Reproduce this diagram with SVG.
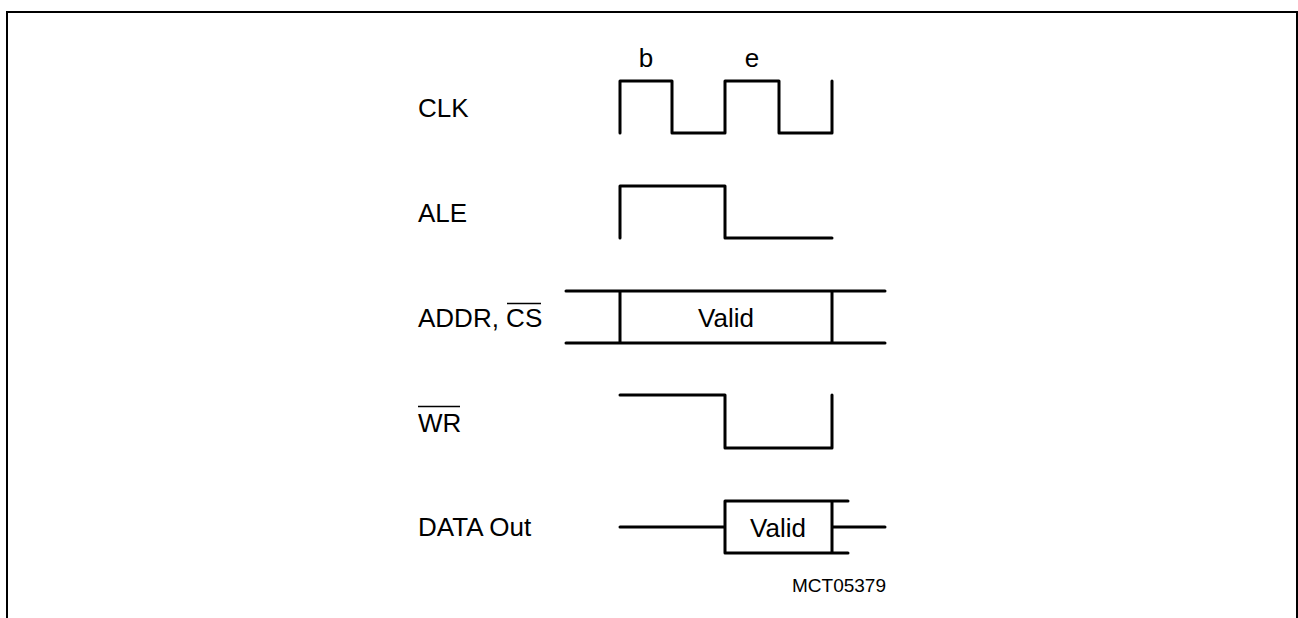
<svg xmlns="http://www.w3.org/2000/svg" width="1298" height="618" viewBox="0 0 1298 618">
<style>
.sig{fill:none;stroke:#000;stroke-width:3;stroke-linecap:round;stroke-linejoin:round}
.frame{fill:none;stroke:#000;stroke-width:2}
.lbl{font-family:"Liberation Sans",Arial,sans-serif;font-size:26px;fill:#000}
.mid{text-anchor:middle}
.small{font-family:"Liberation Sans",Arial,sans-serif;font-size:19px;fill:#000}
.ovl{stroke:#000;stroke-width:1.6}
</style>
<rect width="1298" height="618" fill="#fff"/>
<path class="frame" d="M7,618 V12 H1297 V618"/>
<g id="labels">
<text class="lbl" x="418" y="117">CLK</text>
<text class="lbl" x="418" y="222">ALE</text>
<text class="lbl" x="418" y="327">ADDR, CS</text>
<line class="ovl" x1="507" y1="303.5" x2="541" y2="303.5"/>
<text class="lbl" x="418" y="432">WR</text>
<line class="ovl" x1="418" y1="406.5" x2="460" y2="406.5"/>
<text class="lbl" x="418" y="536">DATA Out</text>
<text class="lbl mid" x="646" y="67">b</text>
<text class="lbl mid" x="752" y="67">e</text>
<text class="small" x="792" y="592">MCT05379</text>
</g>
<g id="connectors">
<path id="clk" class="sig" d="M620,133 V81 H672 V133 H725 V81 H779 V133 H832 V81"/>
<path id="ale" class="sig" d="M620,238 V186 H725 V238 H832"/>
<g id="addr">
<path class="sig" d="M566,291 H885 M566,343 H885 M620,291 V343 M832,291 V343"/>
<text class="lbl mid" x="726" y="327">Valid</text>
</g>
<path id="wr" class="sig" d="M620,395 H725 V448 H832 V395"/>
<g id="data">
<path class="sig" d="M620,527 H725 M725,501 H848 M725,553 H848 M725,501 V553 M832,501 V553 M832,527 H885"/>
<text class="lbl mid" x="778" y="537">Valid</text>
</g>
</g>
</svg>
